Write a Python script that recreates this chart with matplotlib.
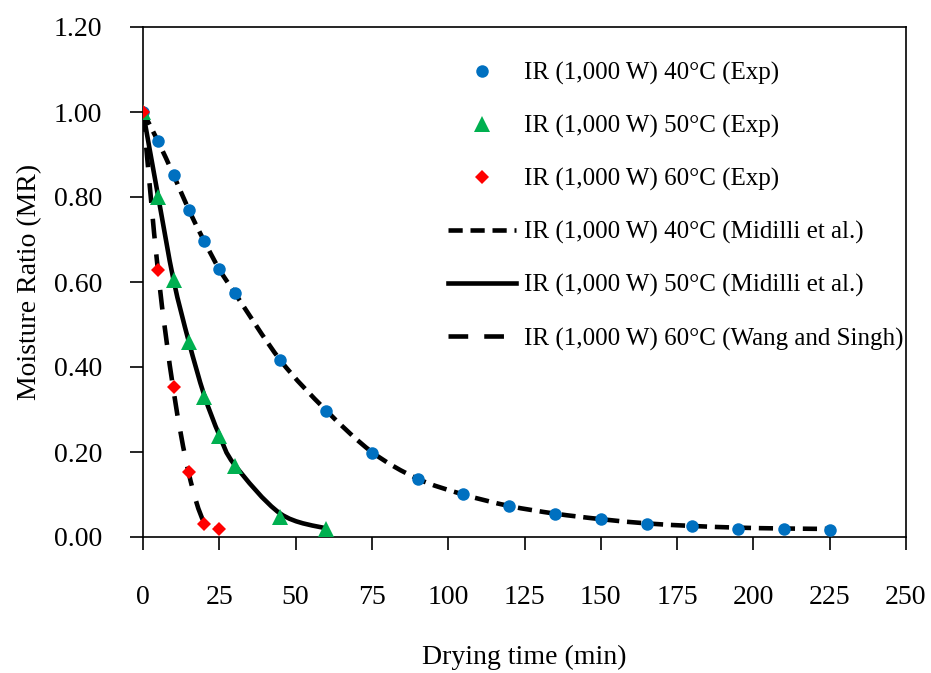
import numpy as np
import matplotlib
matplotlib.use("Agg")
import matplotlib.pyplot as plt
from matplotlib.path import Path
from matplotlib.patches import PathPatch
from matplotlib.lines import Line2D

plt.rcParams["font.family"] = ["Liberation Serif", "DejaVu Serif"]
plt.rcParams["font.size"] = 20

# Drying time (min)
t_40 = [0, 5, 10, 15, 20, 25, 30, 45, 60, 75, 90, 105, 120, 135, 150, 165, 180, 195, 210, 225]
t_50 = [0, 5, 10, 15, 20, 25, 30, 45, 60]
t_60 = [0, 5, 10, 15, 20, 25]

# Experimental moisture ratio
mr_40_exp = [1.00, 0.932, 0.852, 0.769, 0.696, 0.630, 0.575, 0.416, 0.297, 0.198, 0.136,
             0.101, 0.073, 0.054, 0.042, 0.031, 0.025, 0.020, 0.019, 0.017]
mr_50_exp = [1.00, 0.801, 0.605, 0.460, 0.330, 0.237, 0.168, 0.048, 0.020]
mr_60_exp = [1.00, 0.629, 0.352, 0.154, 0.031, 0.020]

# Model predictions
mr_40_midilli = [1.00, 0.930, 0.852, 0.770, 0.697, 0.630, 0.575, 0.416, 0.298, 0.200, 0.137,
                 0.100, 0.073, 0.055, 0.042, 0.032, 0.026, 0.022, 0.020, 0.019]
mr_50_midilli = [1.00, 0.800, 0.605, 0.460, 0.335, 0.240, 0.170, 0.055, 0.020]
mr_60_wang = [1.00, 0.620, 0.345, 0.150, 0.035, 0.020]

labels = [
    "IR (1,000 W) 40°C (Exp)",
    "IR (1,000 W) 50°C (Exp)",
    "IR (1,000 W) 60°C (Exp)",
    "IR (1,000 W) 40°C (Midilli et al.)",
    "IR (1,000 W) 50°C (Midilli et al.)",
    "IR (1,000 W) 60°C (Wang and Singh)",
]


def smooth_path(x, y):
    """Cubic Bezier path through the points (Catmull-Rom style smoothing)."""
    p = np.column_stack([x, y]).astype(float)
    n = len(p)
    verts = [p[0]]
    codes = [Path.MOVETO]
    for i in range(n - 1):
        p0 = p[i - 1] if i > 0 else p[i]
        p1 = p[i]
        p2 = p[i + 1]
        p3 = p[i + 2] if i + 2 < n else p[i + 1]
        c1 = p1 + (p2 - p0) / 6.0
        c2 = p2 - (p3 - p1) / 6.0
        verts += [c1, c2, p2]
        codes += [Path.CURVE4] * 3
    return Path(verts, codes)


fig = plt.figure(figsize=(9.31, 6.73), dpi=100)
ax = fig.add_axes([143 / 931, 1 - 537 / 673, (906 - 143) / 931, (537 - 27) / 673])

lw = 3.3
dash_40 = (0, (3.1, 1.7))
dash_60 = (0, (4.3, 3.5))
styles = [
    (mr_40_midilli, t_40, dash_40),
    (mr_50_midilli, t_50, "solid"),
    (mr_60_wang, t_60, dash_60),
]
for mr, t, ls in styles:
    ax.add_patch(PathPatch(smooth_path(t, mr), fill=False, edgecolor="black",
                           linewidth=lw, linestyle=ls, capstyle="butt", zorder=2))

blue = dict(linestyle="none", marker="o", ms=9, color="#0070C0", markeredgewidth=0)
green = dict(linestyle="none", marker="^", ms=11, color="#00B050", markeredgewidth=0)
red = dict(linestyle="none", marker="D", ms=7.5, color="#FF0000", markeredgewidth=0)

ax.plot(t_40, mr_40_exp, zorder=3, **blue)
ax.plot(t_50, mr_50_exp, zorder=4, **green)
ax.plot(t_60, mr_60_exp, zorder=5, **red)

ax.set_xlim(0, 250)
ax.set_ylim(0, 1.2)
ax.set_xticks(np.arange(0, 251, 25))
ax.set_yticks(np.arange(0, 1.21, 0.2))
ax.set_yticklabels([f"{v:.2f}" for v in np.arange(0, 1.21, 0.2)])
ax.tick_params(direction="out", length=9.4, width=1.2, color="black")
ax.tick_params(axis="y", pad=20)
ax.tick_params(axis="x", pad=25)
for s in ax.spines.values():
    s.set_linewidth(1.2)

ax.set_xlabel("Drying time (min)", labelpad=25)
ax.set_ylabel("Moisture Ratio (MR)", labelpad=8)

handles = [
    Line2D([], [], **blue),
    Line2D([], [], **green),
    Line2D([], [], **red),
    Line2D([], [], color="black", lw=lw, linestyle=dash_40, dash_capstyle="butt"),
    Line2D([], [], color="black", lw=lw, linestyle="solid"),
    Line2D([], [], color="black", lw=lw, linestyle=dash_60, dash_capstyle="butt"),
]
fig.legend(handles, labels, loc="upper left", bbox_to_anchor=(448 / 931, 1 - 62 / 673),
           frameon=False, borderpad=0, borderaxespad=0, handlelength=2.7,
           handletextpad=0.33, labelspacing=1.2, numpoints=1,
           prop={"size": 18})

fig.savefig("out.png", dpi=100)
